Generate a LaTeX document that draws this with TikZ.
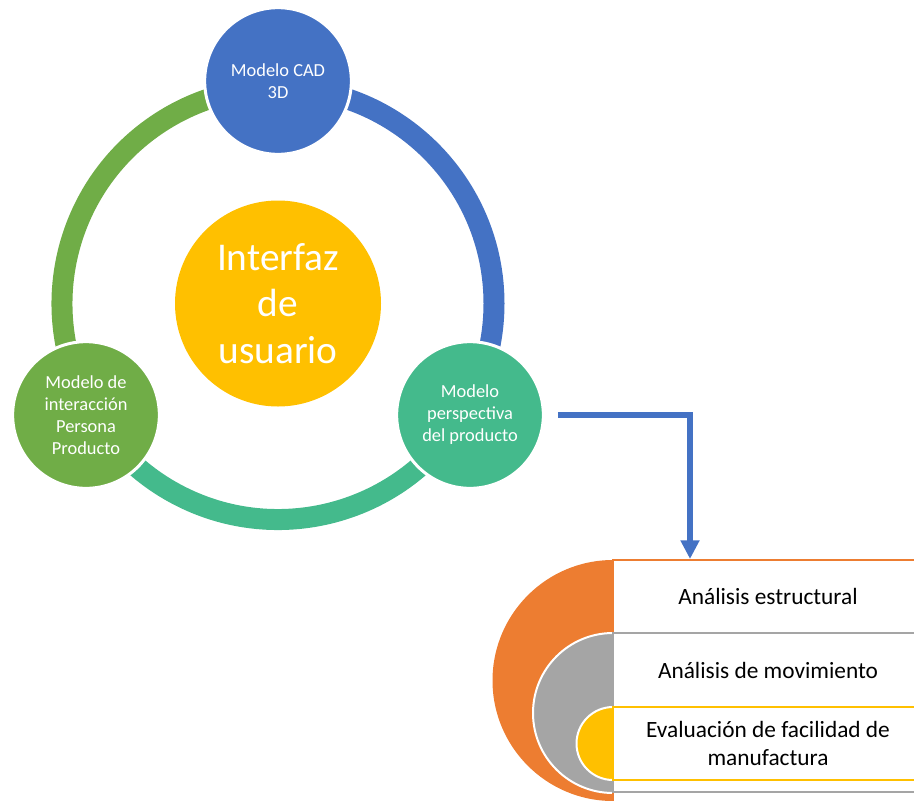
\documentclass[tikz,border=0pt]{standalone}
\usepackage{fontspec}
\setmainfont{Carlito}
\usetikzlibrary{arrows.meta, positioning}
\definecolor{cBlue}{RGB}{68,114,196}
\definecolor{cTeal}{RGB}{68,186,140}
\definecolor{cGreen}{RGB}{112,173,71}
\definecolor{cYellow}{RGB}{255,192,0}
\definecolor{cOrange}{RGB}{237,125,49}
\definecolor{cGray}{RGB}{165,165,165}
\tikzset{
	% cycle styles
	nodo/.style    ={circle, draw=white, line width=2.25pt, minimum size=110pt, inner sep=0pt, align=center, text=white, font=\fontsize{13.8}{16.5}\selectfont},
	centro/.style  ={circle, fill=cYellow, minimum size=154.5pt, inner sep=0pt, align=center, text=white, font=\fontsize{29.5}{35}\selectfont},
	anillo/.style  ={line width=15.75pt},
	flecha/.style  ={-{Triangle[length=14pt, width=13.5pt]}, line width=4.2pt, cBlue},
	% nested target styles
	semi/.style    ={draw=white, line width=1.5pt},
	banda/.style   ={fill=white, line width=1.5pt},
	etiqueta/.style={align=center, font=\fontsize{17.5}{20.5}\selectfont},
}

\begin{document}
\begin{tikzpicture}[x=0.75pt, y=0.75pt]
			\useasboundingbox (0,0) rectangle (914,-800);
			\clip (0,0) rectangle (914,-800);
			% ring
			\coordinate (c) at (278,-303.5);
			\draw[anillo, cBlue] (c) ++(90:216) arc[start angle=90, end angle=-30, radius=216];
			\draw[anillo, cTeal] (c) ++(-30:216) arc[start angle=-30, end angle=-150, radius=216];
			\draw[anillo, cGreen] (c) ++(210:216) arc[start angle=210, end angle=90, radius=216];
			\node[centro] (interfaz) at (c) {Interfaz\\de\\usuario};
			\node[nodo, fill=cBlue] (cad) at (278,-81) {Modelo CAD\\3D};
			\node[nodo, fill=cGreen] (interaccion) at (86,-415) {Modelo de\\interacción\\Persona\\Producto};
			\node[nodo, fill=cTeal] (perspectiva) at (470,-415) {Modelo\\perspectiva\\del producto};
			% nested target
			\fill[cOrange] (613,-560) arc[start angle=90, end angle=270, radius=120.5];
			\filldraw[semi, fill=cGray] (613,-633) arc[start angle=90, end angle=270, radius=80];
			\filldraw[semi, fill=cYellow] (613,-707) arc[start angle=90, end angle=270, radius=36.5];
			\draw[banda, draw=cOrange] (613,-560) rectangle (923,-805);
			\draw[banda, draw=cGray] (613,-633) rectangle (923,-792);
			\draw[banda, draw=cYellow] (613,-707) rectangle (923,-780);
			\node[etiqueta] (estructural) at (768,-596.5) {Análisis estructural};
			\node[etiqueta] (movimiento) at (768,-670) {Análisis de movimiento};
			\node[etiqueta] (facilidad) at (768,-743.5) {Evaluación de facilidad de\\manufactura};
			% link
			\coordinate (entrada) at (690,-559);
			\draw[flecha] ([xshift=9.75pt]perspectiva.east) -| (entrada);
		\end{tikzpicture}
\end{document}
